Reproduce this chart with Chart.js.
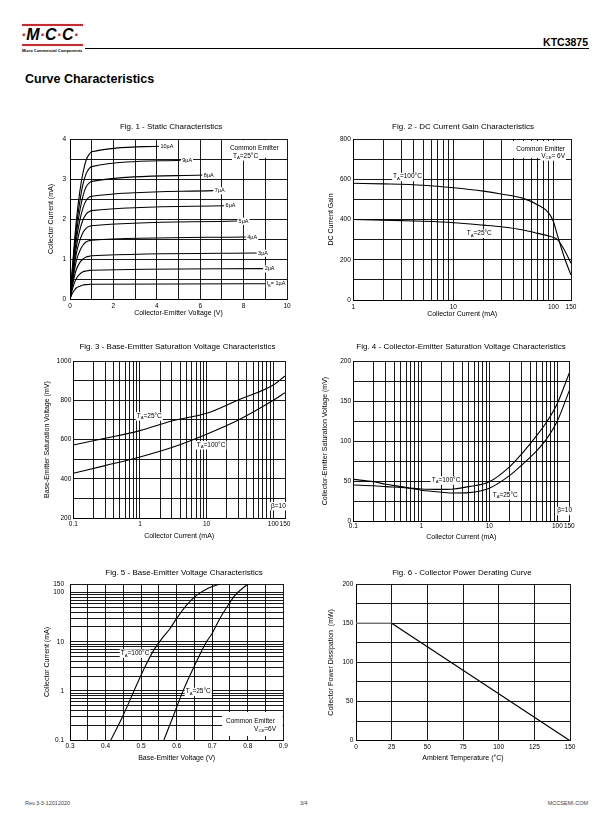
<!DOCTYPE html>
<html>
<head>
<meta charset="utf-8">
<title>KTC3875 Curve Characteristics</title>
<script src="https://cdn.jsdelivr.net/npm/chart.js@4.4.1/dist/chart.umd.min.js"></script>
<style>
  html, body { margin: 0; padding: 0; background: #fff; }
  body { width: 612px; height: 825px; position: relative; overflow: hidden; font-family: "Liberation Sans", Arial, sans-serif; color: #000; }
  .a { position: absolute; white-space: nowrap; }
  .fig { position: absolute; white-space: nowrap; font-size: 8px; line-height: 8px; transform: translate(-50%, -50%); }
  .red { color: #e31e24; }
</style>
</head>
<body>

<!-- header -->
<div class="a" style="left:22px;top:24px;width:61px;height:2px;background:#e31e24"></div>
<div class="a" style="left:21px;top:27px;font:italic bold 16px/16px 'Liberation Sans',Arial,sans-serif"><span class="red">·</span>M<span class="red">·</span>C<span class="red">·</span>C<span class="red">·</span></div>
<div class="a" style="left:22px;top:44px;width:61px;height:2px;background:#e31e24"></div>
<div class="a" style="left:22px;top:47.5px;font:bold 4px/5px 'Liberation Sans',Arial,sans-serif">Micro Commercial Components</div>
<div class="a" style="left:85px;top:48px;width:504px;height:1px;background:#000"></div>
<div class="a" style="right:24px;top:36px;font:bold 10.5px/12px 'Liberation Sans',Arial,sans-serif">KTC3875</div>
<div class="a" style="left:25px;top:71.5px;font:bold 12.5px/14px 'Liberation Sans',Arial,sans-serif">Curve Characteristics</div>

<!-- footer -->
<div class="a" style="left:25px;top:800px;font-size:5.5px;line-height:6px;color:#444">Rev.3-3-12012020</div>
<div class="a" style="left:300px;top:800px;font-size:5.5px;line-height:6px;color:#444">3/4</div>
<div class="a" style="right:24px;top:800px;font-size:5.5px;line-height:6px;color:#444">MCCSEMI.COM</div>

<script>
const FONT = "'Liberation Sans', Arial, sans-serif";

// ---------- Fig. 1 - Static Characteristics ----------
const vceKnee = [0, 0.1, 0.2, 0.3, 0.45, 0.6, 0.75, 0.9, 1.0];
const vceEnd  = [9.0, 8.9, 8.6, 8.1, 7.7, 7.1, 6.6, 6.1, 5.1, 4.1];
const ibLabels = ['I_B= 1µA', '2µA', '3µA', '4µA', '5µA', '6µA', '7µA', '8µA', '9µA', '10µA'];
const ic1  = [0, 0.13, 0.22, 0.28, 0.32, 0.35, 0.36, 0.366, 0.37, 0.38];
const ic2  = [0, 0.22, 0.40, 0.52, 0.62, 0.68, 0.70, 0.715, 0.72, 0.76];
const ic3  = [0, 0.30, 0.56, 0.75, 0.91, 1.00, 1.05, 1.07, 1.08, 1.15];
const ic4  = [0, 0.36, 0.70, 0.97, 1.20, 1.35, 1.43, 1.46, 1.47, 1.55];
const ic5  = [0, 0.42, 0.82, 1.16, 1.46, 1.66, 1.77, 1.82, 1.83, 1.95];
const ic6  = [0, 0.48, 0.94, 1.33, 1.72, 1.98, 2.13, 2.19, 2.21, 2.33];
const ic7  = [0, 0.53, 1.05, 1.50, 1.96, 2.28, 2.47, 2.55, 2.57, 2.71];
const ic8  = [0, 0.60, 1.16, 1.66, 2.20, 2.58, 2.81, 2.91, 2.94, 3.10];
const ic9  = [0, 0.66, 1.28, 1.83, 2.43, 2.87, 3.14, 3.27, 3.31, 3.47];
const ic10 = [0, 0.72, 1.40, 2.00, 2.68, 3.16, 3.48, 3.63, 3.68, 3.82];
const icCurves = [ic1, ic2, ic3, ic4, ic5, ic6, ic7, ic8, ic9, ic10];
const f1xGrid = [0, 1, 2, 3, 4, 5, 6, 7, 8, 9, 10];
const f1xLabels = [0, 2, 4, 6, 8, 10];
const f1yGrid = [0, 0.5, 1, 1.5, 2, 2.5, 3, 3.5, 4];
const f1yLabels = [0, 1, 2, 3, 4];

// ---------- Fig. 2 - DC Current Gain ----------
const icGain = [1, 2, 5, 10, 20, 30, 50, 70, 90, 100, 110, 130, 150];
const hfe100 = [580, 577, 570, 558, 541, 527, 505, 472, 432, 390, 320, 205, 124];
const hfe25  = [400, 397, 391, 384, 372, 364, 348, 331, 318, 311, 300, 245, 182];
const f2xGrid = [1, 2, 3, 4, 5, 6, 7, 8, 9, 10, 20, 30, 40, 50, 60, 70, 80, 90, 100, 150];
const f2xLabels = [1, 10, 100, 150];
const f2yGrid = [0, 100, 200, 300, 400, 500, 600, 700, 800];
const f2yLabels = [0, 200, 400, 600, 800];

// ---------- Fig. 3 - Base-Emitter Saturation Voltage ----------
const icSat3 = [0.1, 0.3, 1, 3, 10, 30, 100, 150];
const vbeSat25  = [573, 607, 646, 695, 734, 802, 878, 924];
const vbeSat100 = [429, 468, 512, 560, 628, 700, 800, 839];
const logGrid = [0.1, 0.2, 0.3, 0.4, 0.5, 0.6, 0.7, 0.8, 0.9, 1, 2, 3, 4, 5, 6, 7, 8, 9, 10, 20, 30, 40, 50, 60, 70, 80, 90, 100, 150];
const logLabels = [0.1, 1, 10, 100, 150];
const f3yGrid = [200, 300, 400, 500, 600, 700, 800, 900, 1000];
const f3yLabels = [200, 400, 600, 800, 1000];

// ---------- Fig. 4 - Collector-Emitter Saturation Voltage ----------
const icSat4 = [0.1, 0.2, 0.3, 0.5, 1, 2, 3, 5, 10, 20, 30, 50, 70, 100, 150];
const vceSat25  = [52, 49, 46, 43, 38.5, 36, 35, 35.5, 41, 57, 70, 88, 103, 125, 163];
const vceSat100 = [45, 44, 43, 42, 40, 39.5, 40, 43, 49, 68, 84, 107, 124, 147, 185];
const f4yGrid = [0, 25, 50, 75, 100, 125, 150, 175, 200];
const f4yLabels = [0, 50, 100, 150, 200];

// ---------- Fig. 5 - Base-Emitter Voltage ----------
const vbe100 = [0.415, 0.448, 0.48, 0.51, 0.537, 0.56, 0.58, 0.6, 0.628, 0.656, 0.69, 0.722];
const ic100  = [0.1, 0.3, 1, 3, 7, 12, 18, 30, 56, 88, 125, 150];
const vbe25  = [0.564, 0.59, 0.618, 0.648, 0.684, 0.698, 0.722, 0.745, 0.764, 0.8];
const ic25   = [0.1, 0.3, 1, 3, 10, 14, 30, 56, 88, 150];
const f5xGrid = [0.3, 0.35, 0.4, 0.45, 0.5, 0.55, 0.6, 0.65, 0.7, 0.75, 0.8, 0.85, 0.9];
const f5xLabels = [0.3, 0.4, 0.5, 0.6, 0.7, 0.8, 0.9];

// ---------- Fig. 6 - Power Derating ----------
const ambient = [0, 25, 150];
const pdMax = [150, 150, 0];
const f6xGrid = [0, 25, 50, 75, 100, 125, 150];
const f6yGrid = [0, 25, 50, 75, 100, 125, 150, 175, 200];
const f6yLabels = [0, 50, 100, 150, 200];

// text with _X / _{XY} subscripts
function parts(s) {
  const out = [];
  const re = /_\{([^}]*)\}|_(.)/g;
  let last = 0, m;
  while ((m = re.exec(s))) {
    if (m.index > last) out.push({ t: s.slice(last, m.index), sub: false });
    out.push({ t: m[1] !== undefined ? m[1] : m[2], sub: true });
    last = re.lastIndex;
  }
  if (last < s.length) out.push({ t: s.slice(last), sub: false });
  return out;
}

function layoutNote(ctx, n, chart) {
  const size = n.size || 6.5;
  const segs = parts(n.t);
  let w = 0;
  segs.forEach(p => {
    ctx.font = (p.sub ? size * 0.65 : size) + 'px ' + FONT;
    p.w = ctx.measureText(p.t).width;
    w += p.w;
  });
  let px = chart.scales.x.getPixelForValue(n.x) + (n.dx || 0);
  const py = chart.scales.y.getPixelForValue(n.y);
  if (n.align === 'right') px -= w;
  return { segs, w, px, py, size };
}

function notesPlugin(notes) {
  return {
    id: 'notes',
    beforeDatasetsDraw(chart) {
      const { ctx, scales: { x, y } } = chart;
      ctx.save();
      ctx.fillStyle = '#fff';
      (notes.boxes || []).forEach(b => {
        const x1 = x.getPixelForValue(b[0]), y1 = y.getPixelForValue(b[1]);
        const x2 = x.getPixelForValue(b[2]), y2 = y.getPixelForValue(b[3]);
        ctx.fillRect(Math.min(x1, x2), Math.min(y1, y2), Math.abs(x2 - x1), Math.abs(y2 - y1));
      });
      (notes.items || []).forEach(n => {
        const L = layoutNote(ctx, n, chart);
        ctx.fillStyle = '#fff';
        ctx.fillRect(L.px - 1, L.py - L.size * 0.6, L.w + 2, L.size * 1.3);
      });
      ctx.restore();
    },
    afterDatasetsDraw(chart) {
      const { ctx } = chart;
      ctx.save();
      ctx.fillStyle = '#000';
      ctx.textBaseline = 'middle';
      ctx.textAlign = 'left';
      (notes.items || []).forEach(n => {
        const L = layoutNote(ctx, n, chart);
        let cx = L.px;
        L.segs.forEach(p => {
          ctx.font = (p.sub ? L.size * 0.65 : L.size) + 'px ' + FONT;
          ctx.fillText(p.t, cx, p.sub ? L.py + L.size * 0.32 : L.py);
          cx += p.w;
        });
      });
      ctx.restore();
    }
  };
}

function axis(d, pad, size, isX) {
  return {
    type: d.type,
    min: d.min,
    max: d.max,
    afterBuildTicks: s => { s.ticks = d.grid.map(v => ({ value: v })); },
    afterFit: s => { if (isX) s.height = size; else s.width = size; },
    grid: { color: '#000', lineWidth: 0.9, drawTicks: false },
    border: { color: '#000', width: 1 },
    ticks: {
      autoSkip: false, maxRotation: 0, minRotation: 0, padding: pad, color: '#000',
      font: { family: FONT, size: 6.5 },
      callback: v => d.labels.includes(v) ? String(v) : ''
    },
    title: { display: true, text: d.title, color: '#000', font: { family: FONT, size: 7 }, padding: 0 }
  };
}

function curve(xs, ys, extra) {
  return Object.assign({
    data: xs.map((x, i) => ({ x: x, y: ys[i] })),
    borderColor: '#000', borderWidth: 1.1, pointRadius: 0,
    cubicInterpolationMode: 'monotone', fill: false
  }, extra || {});
}

function makeChart(title, plot, xAxis, yAxis, datasets, notes) {
  const cl = Math.floor(plot.ytx - 4.2), ct = Math.floor(plot.t - 12);
  const cr = Math.ceil(plot.r + 14), cb = Math.round(plot.xty + 4.2);
  const wrap = document.createElement('div');
  wrap.style.cssText = 'position:absolute;left:' + cl + 'px;top:' + ct + 'px;width:' + (cr - cl) + 'px;height:' + (cb - ct) + 'px';
  const cv = document.createElement('canvas');
  wrap.appendChild(cv);
  document.body.appendChild(wrap);

  const t = document.createElement('div');
  t.className = 'fig';
  t.style.left = title.x + 'px';
  t.style.top = title.y + 'px';
  t.textContent = title.text;
  document.body.appendChild(t);

  return new Chart(cv, {
    type: 'line',
    data: { datasets: datasets },
    options: {
      responsive: true, maintainAspectRatio: false, animation: false, events: [],
      layout: { padding: { left: 0, top: plot.t - ct, right: cr - plot.r, bottom: 0 } },
      plugins: { legend: { display: false }, tooltip: { enabled: false }, title: { display: false } },
      scales: {
        x: axis(xAxis, plot.xtPad, cb - plot.b, true),
        y: axis(yAxis, plot.ytPad, plot.l - cl, false)
      }
    },
    plugins: [notesPlugin(notes)]
  });
}

// Fig. 1
makeChart(
  { text: 'Fig. 1 - Static Characteristics', x: 171, y: 127 },
  { l: 70, t: 139, r: 287, b: 299, ytx: 51.7, xty: 312.7, ytPad: 4, xtPad: 3.5 },
  { type: 'linear', min: 0, max: 10, grid: f1xGrid, labels: f1xLabels, title: 'Collector-Emitter Voltage (V)' },
  { type: 'linear', min: 0, max: 4, grid: f1yGrid, labels: f1yLabels, title: 'Collector Current (mA)' },
  icCurves.map((ic, i) => curve(vceKnee.concat([vceEnd[i]]), ic)),
  {
    boxes: [[7.2, 3.97, 9.96, 3.53]],
    items: icCurves.map((ic, i) => ({ x: vceEnd[i], y: ic[ic.length - 1], t: ibLabels[i], size: 5.5, dx: 1.5 }))
      .concat([
        { x: 7.37, y: 3.775, t: 'Common Emitter' },
        { x: 7.51, y: 3.575, t: 'T_A=25°C' }
      ])
  }
);

// Fig. 2
makeChart(
  { text: 'Fig. 2 - DC Current Gain Characteristics', x: 463, y: 127 },
  { l: 353.3, t: 139, r: 571, b: 300, ytx: 331.7, xty: 313.3, ytPad: 2.5, xtPad: 3 },
  { type: 'logarithmic', min: 1, max: 150, grid: f2xGrid, labels: f2xLabels, title: 'Collector Current (mA)' },
  { type: 'linear', min: 0, max: 800, grid: f2yGrid, labels: f2yLabels, title: 'DC Current Gain' },
  [curve(icGain, hfe100), curve(icGain, hfe25)],
  {
    boxes: [[39.5, 790, 148, 706]],
    items: [
      { x: 2.5, y: 613, t: 'T_A=100°C' },
      { x: 13.6, y: 331, t: 'T_A=25°C' },
      { x: 130.7, y: 749, t: 'Common Emitter', align: 'right' },
      { x: 130.7, y: 715, t: 'V_{CE}= 6V', align: 'right' }
    ]
  }
);

// Fig. 3
makeChart(
  { text: 'Fig. 3 - Base-Emitter Saturation Voltage Characteristics', x: 177.5, y: 347 },
  { l: 73.3, t: 361, r: 285, b: 518.3, ytx: 47.3, xty: 536, ytPad: 2, xtPad: 1.8 },
  { type: 'logarithmic', min: 0.1, max: 150, grid: logGrid, labels: logLabels, title: 'Collector Current (mA)' },
  { type: 'linear', min: 200, max: 1000, grid: f3yGrid, labels: f3yLabels, title: 'Base-Emitter Saturation Voltage (mV)' },
  [curve(icSat3, vbeSat25), curve(icSat3, vbeSat100)],
  {
    items: [
      { x: 0.894, y: 720, t: 'T_A=25°C' },
      { x: 7.1, y: 573, t: 'T_A=100°C' },
      { x: 92.5, y: 263, t: 'β=10' }
    ]
  }
);

// Fig. 4
makeChart(
  { text: 'Fig. 4 - Collector-Emitter Saturation Voltage Characteristics', x: 461, y: 347 },
  { l: 353.3, t: 361, r: 569.3, b: 521, ytx: 326, xty: 536.7, ytPad: 2.3, xtPad: 1.3 },
  { type: 'logarithmic', min: 0.1, max: 150, grid: logGrid, labels: logLabels, title: 'Collector Current (mA)' },
  { type: 'linear', min: 0, max: 200, grid: f4yGrid, labels: f4yLabels, title: 'Collector-Emitter Saturation Voltage (mV)' },
  [curve(icSat4, vceSat25), curve(icSat4, vceSat100)],
  {
    items: [
      { x: 1.42, y: 51, t: 'T_A=100°C' },
      { x: 11.2, y: 32.5, t: 'T_A=25°C' },
      { x: 99.8, y: 12.9, t: 'β=10' }
    ]
  }
);

// Fig. 5
makeChart(
  { text: 'Fig. 5 - Base-Emitter Voltage Characteristics', x: 184, y: 573 },
  { l: 70, t: 584, r: 283.3, b: 740, ytx: 47.3, xty: 757.7, ytPad: 6, xtPad: 2.8 },
  { type: 'linear', min: 0.3, max: 0.9, grid: f5xGrid, labels: f5xLabels, title: 'Base-Emitter Voltage (V)' },
  { type: 'logarithmic', min: 0.1, max: 150, grid: logGrid, labels: logLabels, title: 'Collector Current (mA)' },
  [curve(vbe100, ic100), curve(vbe25, ic25)],
  {
    boxes: [[0.7276, 0.3716, 0.898, 0.1206]],
    items: [
      { x: 0.4426, y: 5.83, t: 'T_A=100°C' },
      { x: 0.6254, y: 0.964, t: 'T_A=25°C' },
      { x: 0.739, y: 0.244, t: 'Common Emitter' },
      { x: 0.8795, y: 0.1675, t: 'V_{CE}=6V', align: 'right' }
    ]
  }
);

// Fig. 6
makeChart(
  { text: 'Fig. 6 - Collector Power Derating Curve', x: 462, y: 573 },
  { l: 356, t: 584, r: 570, b: 740.7, ytx: 331.7, xty: 757.7, ytPad: 2.7, xtPad: 2.4 },
  { type: 'linear', min: 0, max: 150, grid: f6xGrid, labels: f6xGrid, title: 'Ambient Temperature (°C)' },
  { type: 'linear', min: 0, max: 200, grid: f6yGrid, labels: f6yLabels, title: 'Collector Power Dissipation  (mW)' },
  [curve(ambient, pdMax, {
    cubicInterpolationMode: 'default', tension: 0, borderWidth: 1.2,
    segment: { borderColor: c => c.p0DataIndex === 0 ? '#8c8c8c' : '#000' }
  })],
  {}
);
</script>
</body>
</html>
